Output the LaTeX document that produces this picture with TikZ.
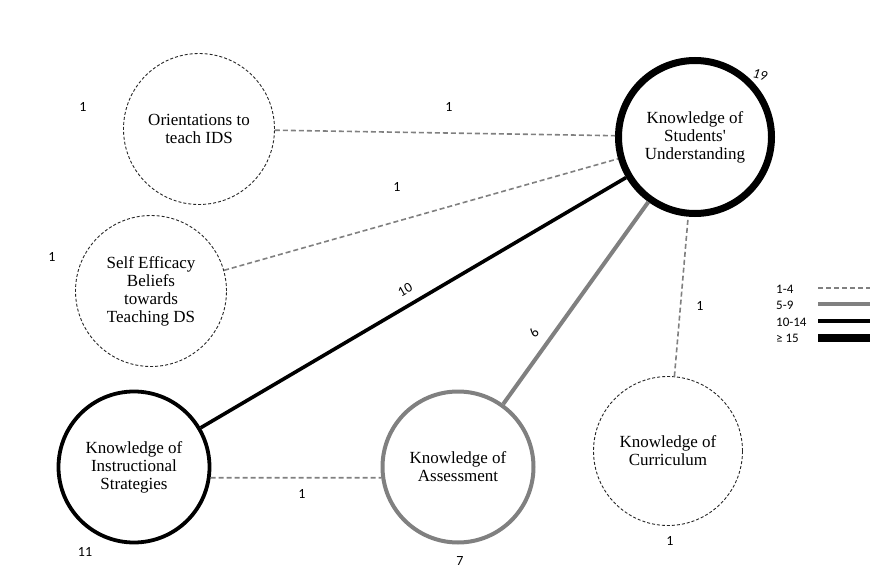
\documentclass[tikz,border=0pt]{standalone}
\usepackage{fontspec}
\setmainfont{Liberation Serif}
\newfontfamily\numfont{Carlito}
\begin{document}
\begin{tikzpicture}[x=1pt,y=-1pt,
  concept/.style={circle, inner sep=0pt, align=center, font=\fontsize{17}{18}\selectfont},
  dashcirc/.style={concept, draw=black!85, line width=0.9pt, dash pattern=on 3pt off 2pt, minimum size=151pt},
  graycirc/.style={concept, draw=lg, line width=4pt, minimum size=151pt},
  blackcirc/.style={concept, draw=black, line width=3.8pt, minimum size=151pt},
  heavycirc/.style={concept, draw=black, line width=7pt, minimum size=153pt},
  weak/.style={draw=lg, line width=1.6pt, dash pattern=on 5pt off 3pt},
  mid/.style={draw=lg, line width=4pt},
  strong/.style={draw=black, line width=3.6pt},
  heavy/.style={draw=black, line width=8pt},
  num/.style={font=\numfont\fontsize{14}{14}\selectfont, inner sep=0pt},
]
\definecolor{lg}{HTML}{808080}
\useasboundingbox (0,0) rectangle (884,583);
\fill[white] (0,0) rectangle (884,583);

% concept circles
\node[dashcirc] (or) at (199,129) {Orientations to\\teach IDS};
\node[dashcirc] (se) at (151,291) {Self Efficacy\\Beliefs\\towards\\Teaching DS};
\node[heavycirc] (su) at (695,137) {Knowledge of\\Students\textquotesingle\\Understanding};
\node[blackcirc] (is) at (134,467) {Knowledge of\\Instructional\\Strategies};
\node[graycirc] (as) at (458,467) {Knowledge of\\Assessment};
\node[dashcirc, minimum size=149pt] (cu) at (668,451) {Knowledge of\\Curriculum};

% connectors
\draw[weak] (or) -- (su);
\draw[weak] (se) -- (su);
\draw[strong] (is) -- (su);
\draw[mid] (as) -- (su);
\draw[weak] (cu) -- (su);
\draw[weak] (is.-8) -- (as.188);

% connector labels
\node[num] (l1) at (449,107) {1};
\node[num] (l2) at (397,187) {1};
\node[num, rotate=30] (l3) at (405,290) {10};
\node[num, rotate=54] (l4) at (534,333) {6};
\node[num] (l5) at (700,306) {1};
\node[num] (l6) at (302,494) {1};

% node counts
\node[num] (c1) at (83,107) {1};
\node[num] (c2) at (52,257) {1};
\node[num] (c3) at (85,552) {11};
\node[num] (c4) at (460,561) {7};
\node[num] (c5) at (670,541) {1};
\node[num, font=\numfont\itshape\fontsize{14}{14}\selectfont, rotate=-12] (c6) at (760,75) {19};

% legend
\node[num, font=\numfont\fontsize{13}{13}\selectfont, anchor=west] (t1) at (776,289) {1-4};
\node[num, font=\numfont\fontsize{13}{13}\selectfont, anchor=west] (t2) at (776,305) {5-9};
\node[num, font=\numfont\fontsize{13}{13}\selectfont, anchor=west] (t3) at (776,322) {10-14};
\node[num, font=\numfont\fontsize{13}{13}\selectfont, anchor=west] (t4) at (776,338) {≥ 15};
\coordinate (a1) at (818,288); \coordinate (b1) at (870,288);
\coordinate (a2) at (818,304); \coordinate (b2) at (870,304);
\coordinate (a3) at (818,321); \coordinate (b3) at (870,321);
\coordinate (a4) at (818,338); \coordinate (b4) at (870,338);
\draw[weak] (a1) -- (b1);
\draw[mid] (a2) -- (b2);
\draw[strong, line width=4pt] (a3) -- (b3);
\draw[heavy] (a4) -- (b4);
\end{tikzpicture}
\end{document}
